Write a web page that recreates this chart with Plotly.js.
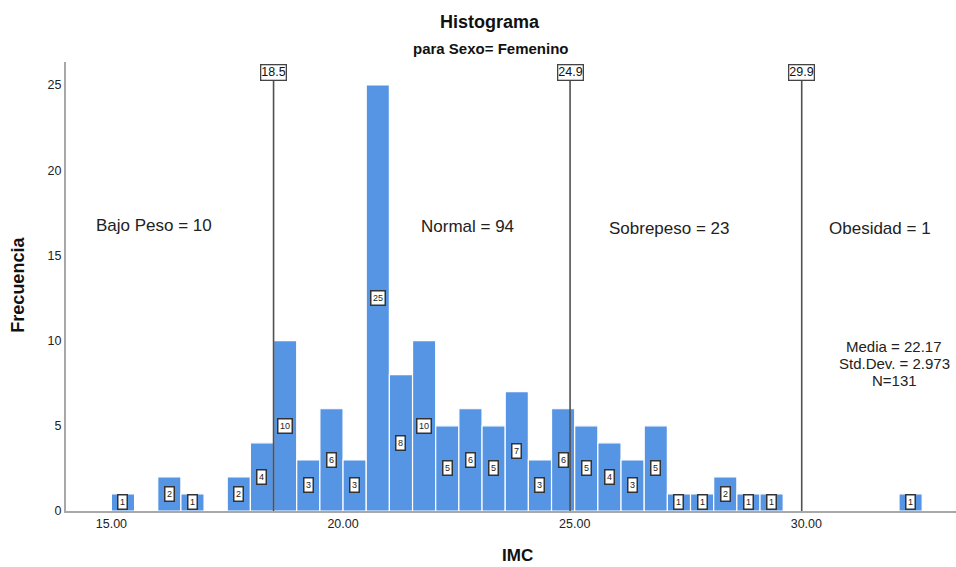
<!DOCTYPE html>
<html>
<head>
<meta charset="utf-8">
<script src="https://cdn.plot.ly/plotly-3.0.1.min.js"></script>
<style>html,body{margin:0;padding:0;background:#fff;}#chart{width:956px;height:567px;}</style>
</head>
<body>
<div id="chart"></div>
<script>
// Bin lower edges (IMC) and frequencies
const binLow = [15.0, 16.0, 16.5, 17.5, 18.0, 18.5, 19.0, 19.5, 20.0, 20.5, 21.0, 21.5, 22.0, 22.5, 23.0, 23.5, 24.0, 24.5, 25.0, 25.5, 26.0, 26.5, 27.0, 27.5, 28.0, 28.5, 29.0, 32.0];
const counts = [1, 2, 1, 2, 4, 10, 3, 6, 3, 25, 8, 10, 5, 6, 5, 7, 3, 6, 5, 4, 3, 5, 1, 1, 2, 1, 1, 1];
const binWidth = 0.5;

// Cut-off reference lines
const cutoffs = [18.5, 24.9, 29.9];
const cutoffLabels = ["18.5", "24.9", "29.9"];

// Category labels
const catLabels = ["Bajo Peso = 10", "Normal = 94", "Sobrepeso = 23", "Obesidad = 1"];
const catX = [15.93, 22.68, 27.04, 31.58];
const catY = [16.73, 16.67, 16.56, 16.56];

// Statistics
const statsLines = ["Media = 22.17", "Std.Dev. = 2.973", "N=131"];
const statsY = [9.64, 8.64, 7.64];

// Axis ticks
const xTicks = [15, 20, 25, 30];
const xTickLabels = ["15.00", "20.00", "25.00", "30.00"];
const yTicks = [0, 5, 10, 15, 20, 25];

const FONT = "Liberation Sans, Arial, sans-serif";
const centers = binLow.map(b => b + binWidth / 2);

const trace = {
  type: "bar",
  x: centers,
  y: counts,
  width: binWidth,
  marker: { color: "#5694e4", line: { color: "#ffffff", width: 1.2 } },
  hoverinfo: "x+y"
};

const annotations = [];
// count boxes in bars
centers.forEach((c, i) => {
  annotations.push({
    x: c, y: counts[i] / 2, xref: "x", yref: "y",
    text: String(counts[i]), showarrow: false,
    xanchor: "center", yanchor: "middle",
    font: { family: FONT, size: 9, color: "#222" },
    bgcolor: "#ffffff", bordercolor: "#333333", borderwidth: 1.5, borderpad: 1.5
  });
});
// cutoff label boxes
cutoffs.forEach((c, i) => {
  annotations.push({
    x: c, y: 25.73, xref: "x", yref: "y",
    text: cutoffLabels[i], showarrow: false,
    xanchor: "center", yanchor: "middle",
    font: { family: FONT, size: 12.5, color: "#111" },
    bgcolor: "#ffffff", bordercolor: "#444444", borderwidth: 1.3, borderpad: 0
  });
});
// category labels
catLabels.forEach((t, i) => {
  annotations.push({
    x: catX[i], y: catY[i], xref: "x", yref: "y",
    text: t, showarrow: false,
    xanchor: "center", yanchor: "middle",
    font: { family: FONT, size: 17, color: "#222" }
  });
});
// stats
statsLines.forEach((t, i) => {
  annotations.push({
    x: 31.9, y: statsY[i], xref: "x", yref: "y",
    text: t, showarrow: false, xanchor: "center", yanchor: "middle",
    font: { family: FONT, size: 15, color: "#222" }
  });
});
// titles
annotations.push({
  x: 0.476, y: 1.0895, xref: "paper", yref: "paper",
  xanchor: "center", yanchor: "middle",
  text: "<b>Histograma</b>", showarrow: false,
  font: { family: FONT, size: 18, color: "#111" }
});
annotations.push({
  x: 0.477, y: 1.031, xref: "paper", yref: "paper",
  xanchor: "center", yanchor: "middle",
  text: "<b>para Sexo= Femenino</b>", showarrow: false,
  font: { family: FONT, size: 15, color: "#111" }
});
annotations.push({
  x: -0.054, y: 0.504, xref: "paper", yref: "paper",
  xanchor: "center", yanchor: "middle",
  text: "<b>Frecuencia</b>", showarrow: false, textangle: -90,
  font: { family: FONT, size: 18, color: "#111" }
});
annotations.push({
  x: 0.507, y: -0.099, xref: "paper", yref: "paper",
  xanchor: "center", yanchor: "middle",
  text: "<b>IMC</b>", showarrow: false,
  font: { family: FONT, size: 17, color: "#111" }
});

const shapes = cutoffs.map(c => ({
  type: "line", xref: "x", yref: "y",
  x0: c, x1: c, y0: 0, y1: 25.4,
  line: { color: "#505050", width: 1.6 },
  layer: "above"
}));

const layout = {
  width: 956, height: 567,
  margin: { l: 66, r: 0, t: 62, b: 55.5 },
  paper_bgcolor: "#ffffff", plot_bgcolor: "#ffffff",
  showlegend: false,
  font: { family: FONT, color: "#222" },
  xaxis: {
    range: [14.02, 33.23],
    tickvals: xTicks, ticktext: xTickLabels,
    showgrid: false, zeroline: false,
    showline: true, linecolor: "#a8a8a8", linewidth: 2,
    ticks: "", tickfont: { family: FONT, size: 12.5, color: "#222" }
  },
  yaxis: {
    range: [0, 26.35],
    tickvals: yTicks,
    showgrid: false, zeroline: false,
    showline: true, linecolor: "#a8a8a8", linewidth: 2,
    ticks: "", tickfont: { family: FONT, size: 12.5, color: "#222" }
  },
  annotations: annotations,
  shapes: shapes
};

Plotly.newPlot("chart", [trace], layout, { displayModeBar: false, staticPlot: true });
</script>
</body>
</html>
